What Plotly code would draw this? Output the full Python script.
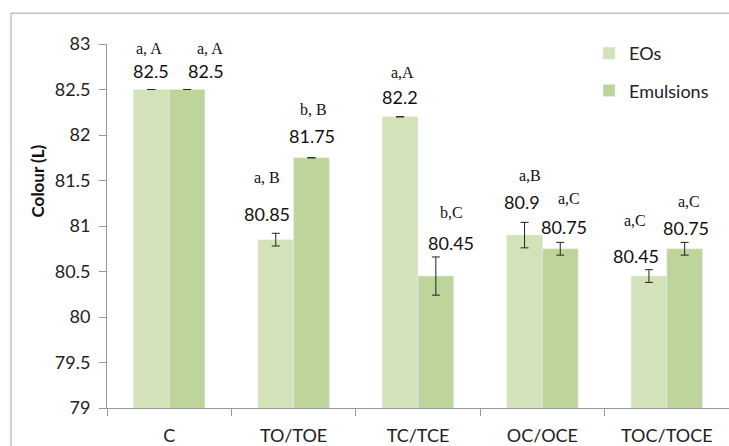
import plotly.graph_objects as go

# Colour (L) of essential oils and their emulsions
categories = ["C", "TO/TOE", "TC/TCE", "OC/OCE", "TOC/TOCE"]
eos_values = [82.5, 80.85, 82.2, 80.9, 80.45]
emulsion_values = [82.5, 81.75, 80.45, 80.75, 80.75]
eos_errors = [0.0, 0.07, 0.0, 0.14, 0.07]
emulsion_errors = [0.0, 0.0, 0.21, 0.07, 0.07]
eos_letters = ["a, A", "a, B", "a,A", "a,B", "a,C"]
emulsion_letters = ["a, A", "b, B", "b,C", "a,C", "a,C"]
y_ticks = [79, 79.5, 80, 80.5, 81, 81.5, 82, 82.5, 83]

EOS_COLOR = "#D3E2B8"
EMU_COLOR = "#BDD59A"
SANS = "Lato, 'Open Sans', sans-serif"
SERIF = "'Liberation Serif', 'DejaVu Serif', serif"

# label offsets in px: (dx value, dy value, dx letters, dy letters) per bar
eos_offsets = [(0, 19, -2, 41), (-9, 26, -9, 62), (0, 20, 2, 44), (-3, 33, 5, 60), (-13, 20, -14, 56)]
emu_offsets = [(19, 19, 23, 41), (0, 22, 2, 48), (15, 33, 16, 64), (4, 22, 9, 50), (1, 21, 4, 47)]
HALF_BAR = 17.9

fig = go.Figure()
fig.add_bar(
    x=categories, y=eos_values, name="EOs", marker_color=EOS_COLOR, legendgroup="eos",
    error_y=dict(type="data", array=eos_errors, color="#222222", thickness=1, width=4),
)
fig.add_bar(
    x=categories, y=emulsion_values, name="Emulsions", marker_color=EMU_COLOR, legendgroup="emu",
    error_y=dict(type="data", array=emulsion_errors, color="#222222", thickness=1, width=4),
)

annotations = []
for values, letters, offsets, side in [
    (eos_values, eos_letters, eos_offsets, -1),
    (emulsion_values, emulsion_letters, emu_offsets, 1),
]:
    for cat, v, lab, (dxv, dyv, dxl, dyl) in zip(categories, values, letters, offsets):
        annotations.append(dict(
            x=cat, y=v, text=f"{v:g}", showarrow=False,
            xshift=side * HALF_BAR + dxv, yshift=dyv, yanchor="middle",
            font=dict(family=SANS, size=18, color="#111111"),
        ))
        annotations.append(dict(
            x=cat, y=v, text=lab, showarrow=False,
            xshift=side * HALF_BAR + dxl, yshift=dyl, yanchor="middle",
            font=dict(family=SERIF, size=16, color="#111111"),
        ))

# y-axis title
annotations.append(dict(
    xref="paper", yref="paper", x=-0.111, y=0.625, text="<b>Colour (L)</b>",
    textangle=-90, showarrow=False, xanchor="center", yanchor="middle",
    font=dict(family=SANS, size=17, color="#111111"),
))

fig.update_layout(
    width=729, height=446,
    margin=dict(l=107, r=0, t=44, b=36),
    paper_bgcolor="white", plot_bgcolor="white",
    barmode="group", bargap=0.426, bargroupgap=0,
    showlegend=True,
    legend=dict(
        x=0.775, y=1.025, xanchor="left", yanchor="top",
        font=dict(family=SANS, size=18, color="#222222"),
        bgcolor="rgba(0,0,0,0)", tracegroupgap=11, itemwidth=30,
    ),
    annotations=annotations,
    shapes=[dict(
        type="rect", xref="paper", yref="paper",
        x0=-0.1543, x1=1.2, y0=-0.3, y1=1.0847,
        line=dict(color="#A6A6A6", width=1), fillcolor="rgba(0,0,0,0)", layer="below",
    )],
)
fig.update_yaxes(
    range=[79, 83], tickvals=y_ticks, ticktext=[f"{t:g}" for t in y_ticks],
    showgrid=False, zeroline=False,
    showline=True, linecolor="#999999", linewidth=1,
    ticks="outside", ticklen=7, tickcolor="#999999", ticklabelstandoff=5,
    tickfont=dict(family=SANS, size=18, color="#222222"),
)
fig.update_xaxes(
    showgrid=False, showline=True, linecolor="#999999", linewidth=1,
    ticks="outside", ticklen=7, tickcolor="#999999", tickson="boundaries",
    ticklabelstandoff=11,
    tickfont=dict(family=SANS, size=18, color="#222222"),
)

fig.write_html("out.html")
